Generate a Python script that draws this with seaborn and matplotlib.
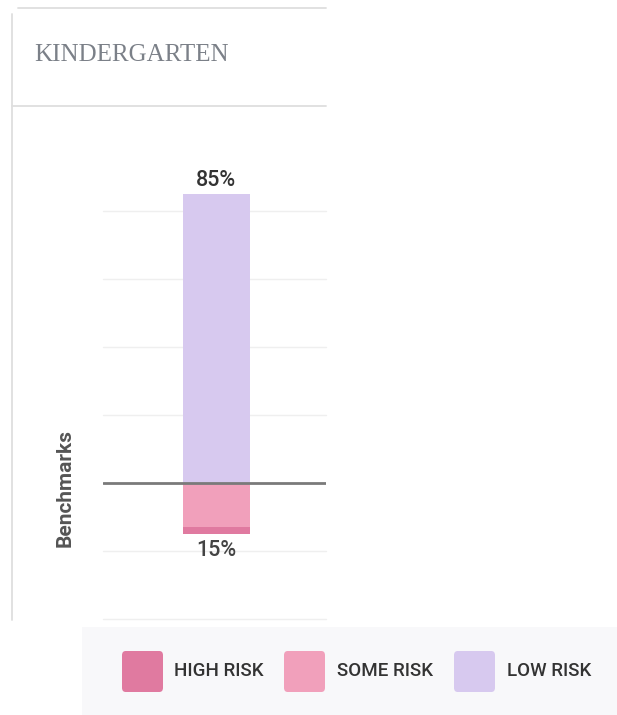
import matplotlib
matplotlib.use("Agg")
import matplotlib.pyplot as plt
from matplotlib.patches import FancyBboxPatch, Rectangle
from matplotlib.lines import Line2D
import seaborn as sns
import pandas as pd

# ---- data ----
grade = ["KINDERGARTEN"]
low_risk = [85]
some_risk = [13]
high_risk = [2]
risk_labels = ["HIGH RISK", "SOME RISK", "LOW RISK"]
risk_colors = ["#e07aa0", "#f1a0bb", "#d7c9ef"]
y_ticks = [-40, -20, 20, 40, 60, 80]

sns.set_theme(style="white")
plt.rcParams["font.family"] = ["Roboto", "DejaVu Sans"]

W, H = 617, 715
fig = plt.figure(figsize=(W / 100, H / 100), dpi=100)
fig.patch.set_facecolor("white")


def fx(x):
    return x / W


def fy(y):
    return 1 - y / H


# ---- card frame ----
card_col = "#dedede"
fig.add_artist(Line2D([fx(12), fx(12)], [fy(14), fy(620)], color=card_col, lw=1.3))
fig.add_artist(Line2D([fx(18), fx(326)], [fy(8), fy(8)], color=card_col, lw=1.3))
fig.add_artist(Line2D([fx(12), fx(326)], [fy(106), fy(106)], color=card_col, lw=1.3))
fig.text(fx(34), fy(55), grade[0], family=["Liberation Serif", "DejaVu Serif"],
         fontsize=18, color="#7b8088", ha="left", va="center")

# ---- chart ----
ax = fig.add_axes([fx(103), fy(619), fx(326) - fx(103), fy(143) - fy(619)])
ax.set_facecolor("none")

df_low = pd.DataFrame({"grade": grade, "value": low_risk})
df_all_neg = pd.DataFrame({"grade": grade,
                           "value": [-(s + h) for s, h in zip(some_risk, high_risk)]})
df_some = pd.DataFrame({"grade": grade, "value": [-s for s in some_risk]})

for gy in y_ticks:
    ax.axhline(gy, color="#efefef", lw=1, zorder=0, clip_on=False)

bar_kw = dict(x="grade", y="value", width=0.3, saturation=1, ax=ax,
              linewidth=0, edgecolor="none")
sns.barplot(data=df_low, color=risk_colors[2], zorder=2, **bar_kw)
sns.barplot(data=df_all_neg, color=risk_colors[0], zorder=2, **bar_kw)
sns.barplot(data=df_some, color=risk_colors[1], zorder=3, **bar_kw)

ax.axhline(0, color="#7a7a7a", lw=2, zorder=4)

ax.set_xlim(-0.507, 0.493)
ax.set_ylim(-40, 100)
ax.set_xlabel("")
ax.set_ylabel("")
ax.set_xticks([])
ax.set_yticks([])
for s in ax.spines.values():
    s.set_visible(False)

pos_total = low_risk[0]
neg_total = some_risk[0] + high_risk[0]
ax.annotate(f"{pos_total}%", (0, pos_total), xytext=(0, 2.5), textcoords="offset points",
            ha="center", va="bottom", fontsize=15.5, fontweight="medium", color="#333333")
ax.annotate(f"{neg_total}%", (0, -neg_total), xytext=(0, -4.5), textcoords="offset points",
            ha="center", va="top", fontsize=15.5, fontweight="medium", color="#444444")

fig.text(fx(65), fy(488), "Benchmarks", rotation=90, ha="center", va="center",
         fontsize=15, fontweight="bold", color="#555555")

# ---- legend strip ----
fig.add_artist(Rectangle((fx(82), 0), fx(617) - fx(82), fy(627), transform=fig.transFigure,
                         facecolor="#f8f8fa", edgecolor="none"))
patch_x = [122, 284, 454]
text_x = [174, 337, 507]
for px, tx, lab, col in zip(patch_x, text_x, risk_labels, risk_colors):
    fig.add_artist(FancyBboxPatch((fx(px), fy(692)), fx(41), 41 / H,
                                  boxstyle="round,pad=0,rounding_size=0.006",
                                  transform=fig.transFigure, facecolor=col, edgecolor="none"))
    fig.text(fx(tx), fy(671), lab, ha="left", va="center", fontsize=13.5,
             fontweight="medium", color="#333333")

fig.savefig("out.png", dpi=100, facecolor="white")
